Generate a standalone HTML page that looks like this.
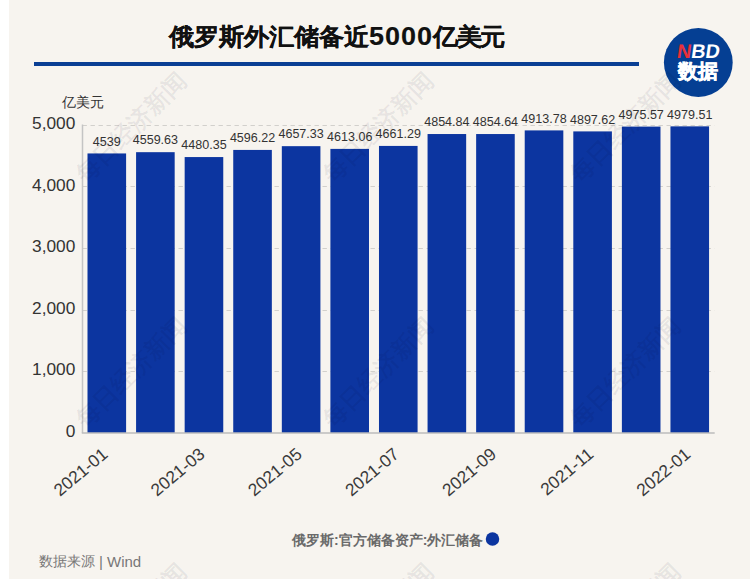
<!DOCTYPE html>
<html><head><meta charset="utf-8">
<style>
html,body{margin:0;padding:0;}
body{width:750px;height:579px;overflow:hidden;background:#f7f4ef;position:relative;font-family:"Liberation Sans",sans-serif;}
.lstrip{position:absolute;left:0;top:0;width:8.5px;height:579px;background:#fff;}
.title{position:absolute;left:169px;top:20px;font-size:25px;font-weight:bold;color:#111;white-space:nowrap;line-height:32px;-webkit-text-stroke:0.15px #111;transform:translateY(0.5px) scaleY(0.95);transform-origin:0 16px;}
.rule{position:absolute;left:34px;top:62px;width:605px;height:4px;background:#0a3f94;}
svg{position:absolute;left:0;top:0;}
</style></head><body>
<div class="lstrip"></div>
<div class="title">俄罗斯外汇储备近<span style="font-size:27px;letter-spacing:1px">5000</span><span style="letter-spacing:-1.4px">亿美元</span></div>
<div class="rule"></div>
<svg width="750" height="579" viewBox="0 0 750 579">
<g stroke="#d2d0cc" stroke-width="1" stroke-dasharray="4.4,3.6"><line x1="82.5" y1="371.5" x2="714.7" y2="371.5"/><line x1="82.5" y1="310.5" x2="714.7" y2="310.5"/><line x1="82.5" y1="248.5" x2="714.7" y2="248.5"/><line x1="82.5" y1="186.5" x2="714.7" y2="186.5"/><line x1="82.5" y1="125.5" x2="714.7" y2="125.5"/></g>
<g fill="#0c35a0"><rect x="87.50" y="153.45" width="38.60" height="279.55"/><rect x="136.08" y="152.18" width="38.60" height="280.82"/><rect x="184.66" y="157.06" width="38.60" height="275.94"/><rect x="233.24" y="149.93" width="38.60" height="283.07"/><rect x="281.82" y="146.17" width="38.60" height="286.83"/><rect x="330.40" y="148.90" width="38.60" height="284.10"/><rect x="378.98" y="145.93" width="38.60" height="287.07"/><rect x="427.56" y="134.03" width="38.60" height="298.97"/><rect x="476.14" y="134.04" width="38.60" height="298.96"/><rect x="524.72" y="130.40" width="38.60" height="302.60"/><rect x="573.30" y="131.40" width="38.60" height="301.60"/><rect x="621.88" y="126.60" width="38.60" height="306.40"/><rect x="670.46" y="126.36" width="38.60" height="306.64"/></g>
<line x1="82.5" y1="124.5" x2="82.5" y2="433" stroke="#c4c4c4" stroke-width="1.5"/>
<line x1="81.8" y1="433" x2="714.7" y2="433" stroke="#bdbdbd" stroke-width="1.5"/>
<g font-size="13" fill="#333" text-anchor="middle"><text transform="translate(106.80,145.75) scale(0.965,1)">4539</text><text transform="translate(155.38,144.48) scale(0.965,1)">4559.63</text><text transform="translate(203.96,149.36) scale(0.965,1)">4480.35</text><text transform="translate(252.54,142.23) scale(0.965,1)">4596.22</text><text transform="translate(301.12,138.47) scale(0.965,1)">4657.33</text><text transform="translate(349.70,141.20) scale(0.965,1)">4613.06</text><text transform="translate(398.28,138.23) scale(0.965,1)">4661.29</text><text transform="translate(446.86,126.33) scale(0.965,1)">4854.84</text><text transform="translate(495.44,126.34) scale(0.965,1)">4854.64</text><text transform="translate(544.02,122.70) scale(0.965,1)">4913.78</text><text transform="translate(592.60,123.70) scale(0.965,1)">4897.62</text><text transform="translate(641.18,118.90) scale(0.965,1)">4975.57</text><text transform="translate(689.76,118.66) scale(0.965,1)">4979.51</text></g>
<g font-size="17.3" fill="#333" text-anchor="end"><text x="75.3" y="436.80">0</text><text x="75.3" y="375.30">1,000</text><text x="75.3" y="313.80">2,000</text><text x="75.3" y="252.30">3,000</text><text x="75.3" y="190.80">4,000</text><text x="75.3" y="129.30">5,000</text></g>
<text x="62" y="106.5" font-size="14" fill="#333">亿美元</text>
<g font-size="17.4" fill="#3a3a3a" text-anchor="end"><text transform="translate(108.80,456) rotate(-40)">2021-01</text><text transform="translate(205.96,456) rotate(-40)">2021-03</text><text transform="translate(303.12,456) rotate(-40)">2021-05</text><text transform="translate(400.28,456) rotate(-40)">2021-07</text><text transform="translate(497.44,456) rotate(-40)">2021-09</text><text transform="translate(594.60,456) rotate(-40)">2021-11</text><text transform="translate(691.76,456) rotate(-40)">2022-01</text></g>
<text x="292" y="544.6" font-size="14" font-weight="bold" fill="#6a6a6a">俄罗斯:官方储备资产:外汇储备</text>
<circle cx="492.5" cy="539.1" r="6.75" fill="#0c35a0"/>
<text x="38.5" y="566" font-size="13.8" fill="#777">数据来源</text><text x="99" y="567" font-size="15" fill="#777">|</text><text x="107" y="566.5" font-size="15" fill="#777">Wind</text>
<circle cx="698.3" cy="62.5" r="34.4" fill="#053f93"/>
<text transform="translate(697.6,58.2) skewX(-8)" font-size="19.8" font-weight="bold" fill="#fff" text-anchor="middle"><tspan fill="#e8303a">N</tspan>BD</text>
<text x="698" y="78.2" font-size="20.2" font-weight="900" fill="#fff" stroke="#fff" stroke-width="0.6" text-anchor="middle">数据</text>
<g font-family="Liberation Serif, serif" font-size="24" font-weight="bold" fill="#000020" fill-opacity="0.065"><text transform="translate(188,82) rotate(-45)" text-anchor="end">每日经济新闻</text><text transform="translate(188,327) rotate(-45)" text-anchor="end">每日经济新闻</text><text transform="translate(188,573) rotate(-45)" text-anchor="end">每日经济新闻</text><text transform="translate(435,82) rotate(-45)" text-anchor="end">每日经济新闻</text><text transform="translate(435,327) rotate(-45)" text-anchor="end">每日经济新闻</text><text transform="translate(435,573) rotate(-45)" text-anchor="end">每日经济新闻</text><text transform="translate(682,82) rotate(-45)" text-anchor="end">每日经济新闻</text><text transform="translate(682,327) rotate(-45)" text-anchor="end">每日经济新闻</text><text transform="translate(682,573) rotate(-45)" text-anchor="end">每日经济新闻</text></g>
</svg>
</body></html>
